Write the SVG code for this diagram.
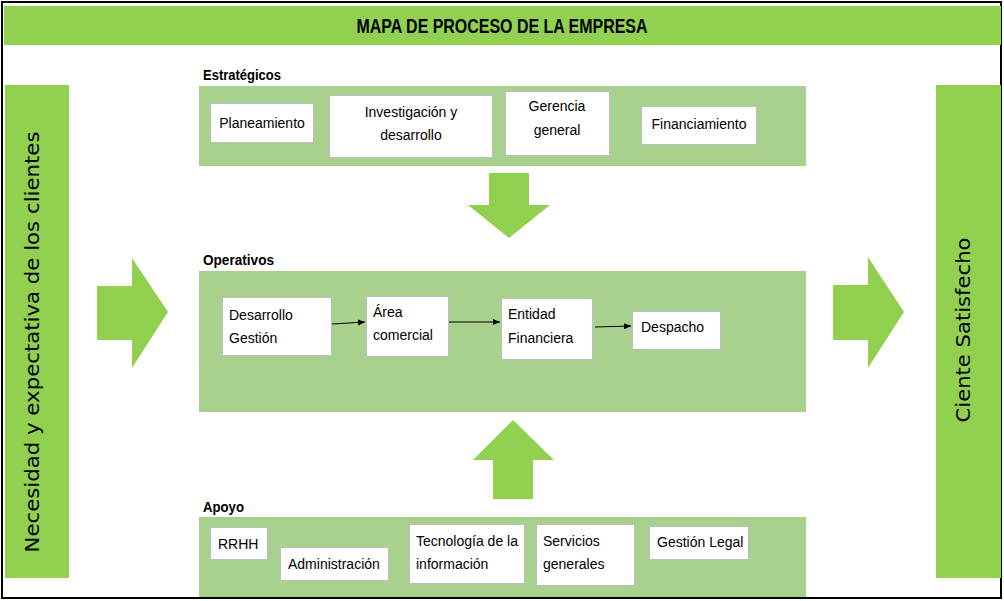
<svg xmlns="http://www.w3.org/2000/svg" width="1004" height="601" viewBox="0 0 1004 601">
<style>
.panel{fill:#A9D18E}
.big{fill:#92D050}
.box{fill:#FFFFFF;stroke:#BFBFBF;stroke-width:1}
.t{font-family:"Liberation Sans",Arial,sans-serif;font-size:14px;fill:#000}
.lbl{font-family:"Liberation Sans",Arial,sans-serif;font-size:14px;font-weight:bold;fill:#000}
.vt{font-family:"DejaVu Sans","Noto Sans",sans-serif;font-size:20px;fill:#000}
.conn{stroke:#000;stroke-width:1;fill:none}
</style>
<defs>
<marker id="ah" markerWidth="8" markerHeight="8" refX="7" refY="4" orient="auto" markerUnits="userSpaceOnUse">
<path d="M0,1 L7,4 L0,7 Z" fill="#000"/>
</marker>
</defs>
<rect x="0" y="0" width="1004" height="601" fill="#FFFFFF"/>
<rect x="2" y="2" width="999" height="596" fill="none" stroke="#000" stroke-width="2"/>
<g id="title">
<rect x="4" y="6" width="997" height="39" class="big"/>
<text x="502" y="33" text-anchor="middle" font-family="'Liberation Sans',Arial,sans-serif" font-weight="bold" font-size="20" textLength="291" lengthAdjust="spacingAndGlyphs">MAPA DE PROCESO DE LA EMPRESA</text>
</g>
<g id="left-bar">
<rect x="5" y="85" width="64" height="493" class="big"/>
<text class="vt" transform="translate(39,342) rotate(-90)" text-anchor="middle" textLength="421" lengthAdjust="spacingAndGlyphs">Necesidad y expectativa de los clientes</text>
</g>
<g id="right-bar">
<rect x="936" y="85" width="65" height="493" class="big"/>
<text class="vt" transform="translate(970,330) rotate(-90)" text-anchor="middle" textLength="185" lengthAdjust="spacingAndGlyphs">Ciente Satisfecho</text>
</g>
<g id="big-arrows">
<polygon class="big" points="97,286 132,286 132,258 168,312 132,368 132,340 97,340"/>
<polygon class="big" points="833,285 868,285 868,257 904,312 868,368 868,340 833,340"/>
<polygon class="big" points="489,173 529,173 529,205 550,205 509,238 468,205 489,205"/>
<polygon class="big" points="493,499 533,499 533,460 554,460 513,420 473,460 493,460"/>
</g>
<g id="estrategicos">
<text class="lbl" x="203" y="80" textLength="78" lengthAdjust="spacingAndGlyphs">Estratégicos</text>
<rect class="panel" x="199" y="86" width="607" height="80"/>
</g>
<g id="planeamiento"><rect class="box" x="210.5" y="103.5" width="103" height="39"/><text class="t" x="262" y="128" text-anchor="middle">Planeamiento</text></g>
<g id="investigacion"><rect class="box" x="329.5" y="95.5" width="163" height="62"/><text class="t" x="411" y="117" text-anchor="middle">Investigación y</text><text class="t" x="411" y="140" text-anchor="middle">desarrollo</text></g>
<g id="gerencia"><rect class="box" x="505.5" y="91.5" width="104" height="64"/><text class="t" x="557" y="111" text-anchor="middle">Gerencia</text><text class="t" x="557" y="135" text-anchor="middle">general</text></g>
<g id="financiamiento"><rect class="box" x="641.5" y="106.5" width="115" height="38"/><text class="t" x="699" y="129" text-anchor="middle">Financiamiento</text></g>
<g id="operativos">
<text class="lbl" x="203" y="265" textLength="71" lengthAdjust="spacingAndGlyphs">Operativos</text>
<rect class="panel" x="199" y="271" width="607" height="141"/>
</g>
<g id="desarrollo"><rect class="box" x="222.5" y="297.5" width="109" height="58"/><text class="t" x="229" y="320">Desarrollo</text><text class="t" x="229" y="343">Gestión</text></g>
<g id="area"><rect class="box" x="366.5" y="296.5" width="82" height="60"/><text class="t" x="373" y="317">Área</text><text class="t" x="373" y="340">comercial</text></g>
<g id="entidad"><rect class="box" x="501.5" y="298.5" width="91" height="61"/><text class="t" x="508" y="319">Entidad</text><text class="t" x="508" y="343">Financiera</text></g>
<g id="despacho"><rect class="box" x="632.5" y="311.5" width="88" height="38"/><text class="t" x="641" y="332">Despacho</text></g>
<g id="connectors">
<line class="conn" x1="332" y1="324" x2="365" y2="322" marker-end="url(#ah)"/>
<line class="conn" x1="449" y1="322" x2="500" y2="322" marker-end="url(#ah)"/>
<line class="conn" x1="595" y1="327" x2="631" y2="326" marker-end="url(#ah)"/>
</g>
<g id="apoyo">
<text class="lbl" x="203" y="512" textLength="41" lengthAdjust="spacingAndGlyphs">Apoyo</text>
<rect class="panel" x="199" y="517" width="607" height="80"/>
</g>
<g id="rrhh"><rect class="box" x="210.5" y="527.5" width="57" height="32"/><text class="t" x="218" y="549">RRHH</text></g>
<g id="administracion"><rect class="box" x="280.5" y="547.5" width="108" height="33"/><text class="t" x="288" y="569">Administración</text></g>
<g id="tecnologia"><rect class="box" x="409.5" y="524.5" width="115" height="59"/><text class="t" x="416" y="546">Tecnología de la</text><text class="t" x="416" y="569">información</text></g>
<g id="servicios"><rect class="box" x="536.5" y="524.5" width="98" height="61"/><text class="t" x="543" y="546">Servicios</text><text class="t" x="543" y="569">generales</text></g>
<g id="legal"><rect class="box" x="649.5" y="526.5" width="99" height="33"/><text class="t" x="657" y="547">Gestión Legal</text></g>
</svg>
